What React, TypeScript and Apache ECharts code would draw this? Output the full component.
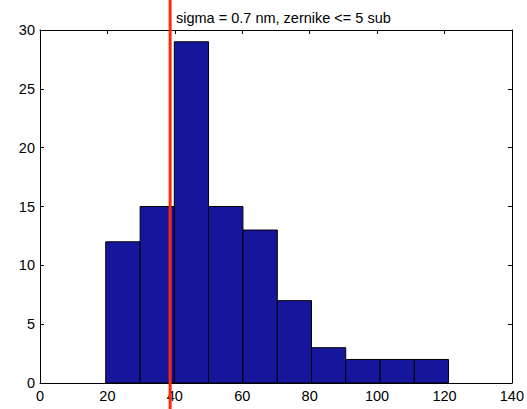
import React, { useEffect, useRef } from "react";
import * as echarts from "echarts";

const titleText = "sigma = 0.7 nm, zernike <= 5 sub";
const binEdges = [19.5, 29.7, 39.85, 50.0, 60.2, 70.4, 80.55, 90.7, 100.9, 111.05, 121.2];
const counts = [12, 15, 29, 15, 13, 7, 3, 2, 2, 2];
const redLineX = [38.6];
const xTicks = { min: 0, max: 140, interval: 20 };
const yTicks = { min: 0, max: 30, interval: 5 };

export default function App() {
  const ref = useRef<HTMLDivElement>(null);
  useEffect(() => {
    if (!ref.current) return;
    const chart = echarts.init(ref.current, null, { renderer: "svg" });
    const font = "Liberation Sans, Arial, Helvetica, sans-serif";
    const axisCommon = {
      axisLine: { show: true, onZero: false, lineStyle: { color: "#000", width: 1 } },
      axisTick: { show: true, inside: true, length: 4, lineStyle: { color: "#000" } },
      splitLine: { show: false },
    };
    const barData = counts.map((c, i) => [binEdges[i], binEdges[i + 1], c]);
    chart.setOption({
      animation: false,
      backgroundColor: "#fff",
      title: {
        text: titleText,
        left: 171,
        top: 5,
        textStyle: { fontFamily: font, fontSize: 14.5, fontWeight: "normal", color: "#000" },
      },
      grid: { left: 40, right: 10, top: 30, bottom: 26, containLabel: false },
      xAxis: [
        {
          type: "value",
          ...xTicks,
          position: "bottom",
          ...axisCommon,
          axisLabel: { show: true, color: "#000", fontFamily: font, fontSize: 14.5, margin: 5, showMaxLabel: true },
        },
        {
          type: "value",
          ...xTicks,
          position: "top",
          ...axisCommon,
          axisLabel: { show: false },
        },
      ],
      yAxis: [
        {
          type: "value",
          ...yTicks,
          position: "left",
          ...axisCommon,
          axisLabel: { show: true, color: "#000", fontFamily: font, fontSize: 14.5, margin: 5 },
        },
        {
          type: "value",
          ...yTicks,
          position: "right",
          ...axisCommon,
          axisLabel: { show: false },
        },
      ],
      series: [
        {
          type: "custom",
          xAxisIndex: 0,
          yAxisIndex: 0,
          data: barData,
          encode: { x: [0, 1], y: 2 },
          renderItem: (params: any, api: any) => {
            const p0 = api.coord([api.value(0), 0]);
            const p1 = api.coord([api.value(1), api.value(2)]);
            return {
              type: "rect",
              shape: { x: p0[0], y: p1[1], width: p1[0] - p0[0], height: p0[1] - p1[1] },
              style: { fill: "#15169b", stroke: "#000", lineWidth: 1 },
            };
          },
        },
        {
          type: "custom",
          xAxisIndex: 0,
          yAxisIndex: 0,
          data: redLineX.map((v) => [v]),
          encode: { x: 0 },
          clip: false,
          z: 10,
          renderItem: (params: any, api: any) => {
            const p = api.coord([api.value(0), 0]);
            return {
              type: "line",
              shape: { x1: p[0], y1: 0, x2: p[0], y2: api.getHeight() },
              style: { stroke: "#fa2a0a", lineWidth: 3 },
            };
          },
        },
      ],
    });
    return () => chart.dispose();
  }, []);
  return <div ref={ref} style={{ position: "fixed", left: 0, top: 0, width: 527, height: 409 }} />;
}
